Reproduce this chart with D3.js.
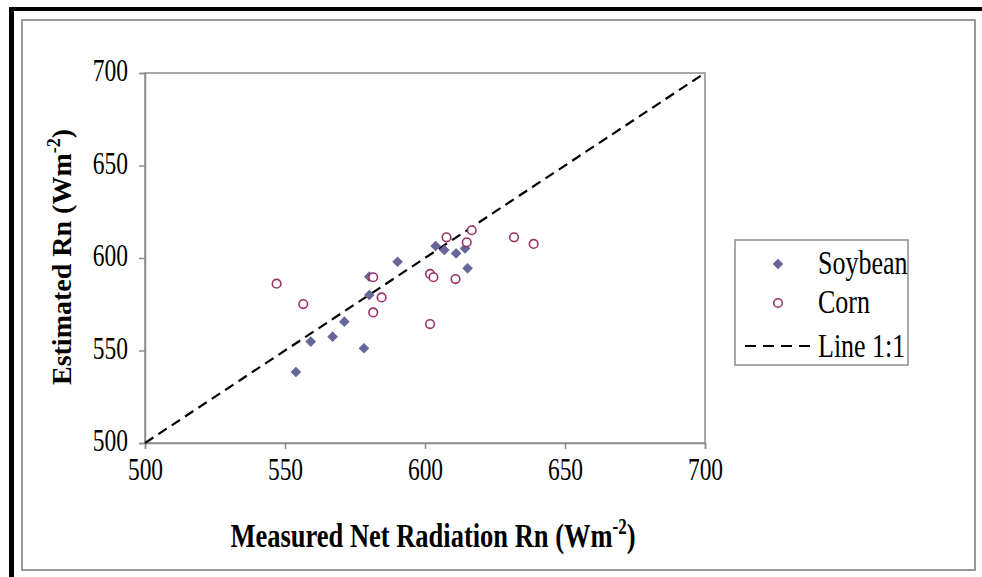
<!DOCTYPE html>
<html>
<head>
<meta charset="utf-8">
<script src="https://cdn.jsdelivr.net/npm/d3@7"></script>
<style>
  body { margin: 0; background: #fff; }
  svg { display: block; font-family: "Liberation Serif", "Times New Roman", serif; }
</style>
</head>
<body>
<div id="chart"></div>
<script>
// measured (x) vs estimated (y) net radiation, W m-2
const soyMeasured  = [553.9, 559.2, 567.0, 571.2, 578.2, 580.1, 580.1, 590.2, 603.8, 606.9, 611.1, 614.3, 615.2];
const soyEstimated = [538.4, 554.8, 557.5, 565.6, 551.2, 589.9, 580.0, 598.0, 606.5, 604.3, 602.5, 605.2, 594.4];

const cornMeasured  = [547.0, 556.5, 581.5, 584.5, 581.5, 601.8, 603.0, 601.8, 607.7, 616.7, 614.9, 610.9, 631.8, 638.8];
const cornEstimated = [586.1, 575.1, 589.6, 578.7, 570.6, 591.4, 589.6, 564.3, 611.2, 615.0, 608.5, 588.6, 611.2, 607.6];

const oneToOne = [500, 700];
const xTicks = [500, 550, 600, 650, 700];
const yTicks = [500, 550, 600, 650, 700];

const W = 982, H = 577;
const plot = { left: 145, right: 705, top: 73, bottom: 443 };
const soyColor = '#666699';
const cornColor = '#993366';
const stretch = 1.3; // the original text is drawn tall and narrow

const svg = d3.select('#chart').append('svg')
  .attr('width', W)
  .attr('height', H);

// outer frame: thick black on left/top, gray inner box
svg.append('rect').attr('x', 9).attr('y', 7).attr('width', 5).attr('height', H - 7).attr('fill', '#000');
svg.append('rect').attr('x', 9).attr('y', 7).attr('width', W - 9).attr('height', 4).attr('fill', '#000');
svg.append('rect')
  .attr('x', 22).attr('y', 20)
  .attr('width', 975 - 22).attr('height', 570 - 20)
  .attr('fill', '#fff')
  .attr('stroke', '#9a9a9a')
  .attr('stroke-width', 2);

const x = d3.scaleLinear().domain([500, 700]).range([plot.left, plot.right]);
const y = d3.scaleLinear().domain([500, 700]).range([plot.bottom, plot.top]);

// plot border
svg.append('rect')
  .attr('x', plot.left).attr('y', plot.top)
  .attr('width', plot.right - plot.left).attr('height', plot.bottom - plot.top)
  .attr('fill', 'none')
  .attr('stroke', '#8c8c8c')
  .attr('stroke-width', 1.5);

const xAxis = svg.append('g')
  .attr('transform', `translate(0,${plot.bottom})`)
  .call(d3.axisBottom(x).tickValues(xTicks).tickSize(6).tickFormat(d3.format('d')));
const yAxis = svg.append('g')
  .attr('transform', `translate(${plot.left},0)`)
  .call(d3.axisLeft(y).tickValues(yTicks).tickSize(6).tickFormat(d3.format('d')));

[xAxis, yAxis].forEach(g => {
  g.select('.domain').attr('stroke', '#8c8c8c').attr('stroke-width', 1.5);
  g.selectAll('.tick line').attr('stroke', '#8c8c8c').attr('stroke-width', 1.5);
  g.selectAll('.tick text')
    .attr('fill', '#000')
    .attr('dy', null)
    .attr('transform', `scale(1,${stretch})`)
    .style('font-family', '"Liberation Serif", "Times New Roman", serif')
    .style('font-size', '23.5px');
});
xAxis.selectAll('.tick text').attr('y', 37 / stretch);
yAxis.selectAll('.tick text').attr('x', -17).attr('y', 7.6 / stretch);

// 1:1 line
svg.append('line')
  .attr('x1', x(oneToOne[0])).attr('y1', y(oneToOne[0]))
  .attr('x2', x(oneToOne[1])).attr('y2', y(oneToOne[1]))
  .attr('stroke', '#000')
  .attr('stroke-width', 2.2)
  .attr('stroke-dasharray', '10,6');

const diamond = d3.symbol().type(d3.symbolDiamond2).size(72);

svg.append('g').selectAll('path')
  .data(soyMeasured.map((m, i) => [m, soyEstimated[i]]))
  .enter().append('path')
    .attr('d', diamond)
    .attr('transform', d => `translate(${x(d[0])},${y(d[1])})`)
    .attr('fill', soyColor);

svg.append('g').selectAll('circle')
  .data(cornMeasured.map((m, i) => [m, cornEstimated[i]]))
  .enter().append('circle')
    .attr('cx', d => x(d[0]))
    .attr('cy', d => y(d[1]))
    .attr('r', 4.3)
    .attr('fill', '#fff')
    .attr('stroke', cornColor)
    .attr('stroke-width', 1.6);

// axis titles
const yt = svg.append('text')
  .attr('transform', 'translate(71,257) rotate(-90)')
  .attr('text-anchor', 'middle')
  .style('font-size', '28px')
  .style('font-weight', 'bold');
yt.append('tspan').text('Estimated Rn (Wm');
yt.append('tspan').attr('dy', -11).style('font-size', '18px').text('-2');
yt.append('tspan').attr('dy', 11).text(')');

const xt = svg.append('text')
  .attr('transform', `translate(433,547) scale(1,${stretch})`)
  .attr('text-anchor', 'middle')
  .style('font-size', '26.5px')
  .style('font-weight', 'bold');
xt.append('tspan').text('Measured Net Radiation Rn (Wm');
xt.append('tspan').attr('dy', -10).style('font-size', '17px').text('-2');
xt.append('tspan').attr('dy', 10).text(')');

// legend
const lg = svg.append('g');
lg.append('rect')
  .attr('x', 735).attr('y', 240).attr('width', 173).attr('height', 125)
  .attr('fill', '#fff').attr('stroke', '#8c8c8c').attr('stroke-width', 1.5);

lg.append('path').attr('d', diamond).attr('transform', 'translate(778,264)').attr('fill', soyColor);
lg.append('circle').attr('cx', 778).attr('cy', 303).attr('r', 4.3)
  .attr('fill', '#fff').attr('stroke', cornColor).attr('stroke-width', 1.6);
lg.append('line').attr('x1', 745).attr('x2', 810).attr('y1', 346).attr('y2', 346)
  .attr('stroke', '#000').attr('stroke-width', 2.2).attr('stroke-dasharray', '11,7');

[['Soybean', 274], ['Corn', 313], ['Line 1:1', 357]].forEach(([t, yy]) => {
  lg.append('text')
    .attr('transform', `translate(818,${yy}) scale(1,${stretch})`)
    .style('font-size', '26px')
    .text(t);
});
</script>
</body>
</html>
